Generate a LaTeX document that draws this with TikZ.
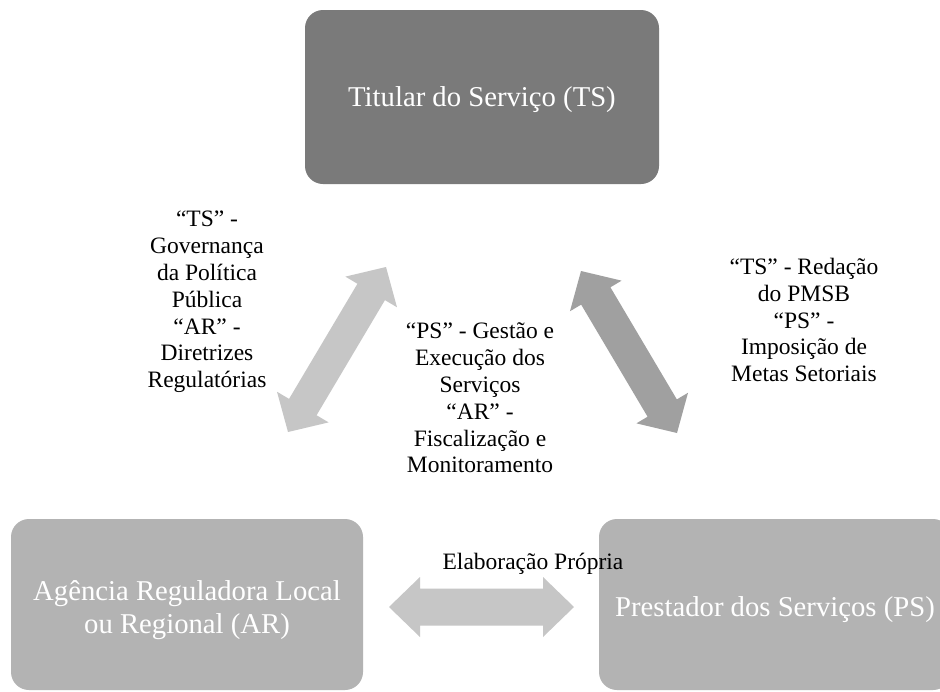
\documentclass[tikz,border=0pt]{standalone}
\usepackage{fontspec}
\setmainfont{Liberation Serif}
\usetikzlibrary{calc}
\definecolor{tsgray}{HTML}{7A7A7A}
\definecolor{boxgray}{HTML}{B3B3B3}
\definecolor{arrlight}{HTML}{C6C6C6}
\definecolor{arrdark}{HTML}{A0A0A0}
% #1 style, #2 start, #3 end, #4 head length, #5 head half width, #6 shaft half width
\newcommand{\BlockArrow}[6]{%
  \fill[#1] (#2)
    -- ($(#2)!#4!(#3)!#5!90:(#3)$)
    -- ($(#2)!#4!(#3)!#6!90:(#3)$)
    -- ($(#3)!#4!(#2)!#6!-90:(#2)$)
    -- ($(#3)!#4!(#2)!#5!-90:(#2)$)
    -- (#3)
    -- ($(#3)!#4!(#2)!#5!90:(#2)$)
    -- ($(#3)!#4!(#2)!#6!90:(#2)$)
    -- ($(#2)!#4!(#3)!#6!-90:(#3)$)
    -- ($(#2)!#4!(#3)!#5!-90:(#3)$)
    -- cycle;}
\begin{document}
\begin{tikzpicture}[x=1pt,y=-1pt,
  box/.style={rounded corners=18pt, minimum width=352pt, minimum height=171pt,
    text=white, align=center, inner sep=0pt, font=\fontsize{28.7}{33}\selectfont},
  lbl/.style={align=center, inner sep=0pt, font=\fontsize{23.5}{26.8}\selectfont},
  lightarrow/.style={fill=arrlight},
  darkarrow/.style={fill=arrdark}]
\clip (0,0) rectangle (940,691);
\fill[white] (0,0) rectangle (940,691);
% boxes
\node[box, fill=tsgray, minimum width=354pt, minimum height=174pt] (ts) at (482,97) {\rule{0pt}{26pt}Titular do Serviço (TS)};
\node[box, fill=boxgray] (ar) at (187,604.5) {\rule{0pt}{32pt}Agência Reguladora Local\\ou Regional (AR)};
\node[box, fill=boxgray] (ps) at (775,604.5) {\rule{0pt}{30pt}Prestador dos Serviços (PS)};
% arrow end points
\coordinate (la1) at (288,432);
\coordinate (la2) at (386,267);
\coordinate (ra1) at (581,271);
\coordinate (ra2) at (677,433);
\coordinate (ha1) at (389,607);
\coordinate (ha2) at (574,607);
\BlockArrow{lightarrow}{la1}{la2}{29pt}{30pt}{16pt}
\BlockArrow{darkarrow}{ra1}{ra2}{29pt}{30pt}{17pt}
\BlockArrow{lightarrow}{ha1}{ha2}{31pt}{30pt}{18.5pt}
% labels
\node[lbl] (lt) at (207,302) {“TS” -\\Governança\\da Política\\Pública\\“AR” -\\Diretrizes\\Regulatórias};
\node[lbl] (mid) at (480,398) {“PS” - Gestão e\\Execução dos\\Serviços\\“AR” -\\Fiscalização e\\Monitoramento};
\node[lbl] (rt) at (804,320) {“TS” - Redação\\do PMSB\\“PS” -\\Imposição de\\Metas Setoriais};
\node[lbl] (src) at (533,564) {Elaboração Própria};
\end{tikzpicture}
\end{document}
